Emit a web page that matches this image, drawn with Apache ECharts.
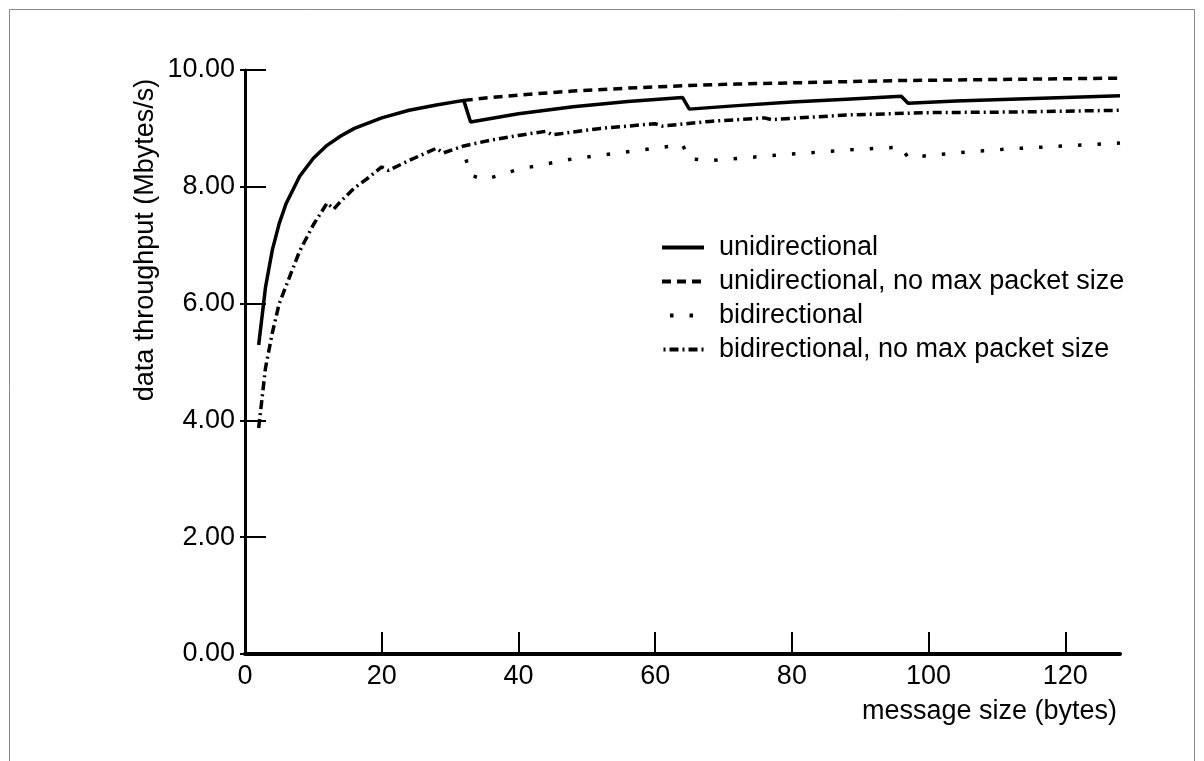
<!DOCTYPE html>
<html>
<head>
<meta charset="utf-8">
<script src="https://cdn.jsdelivr.net/npm/echarts@6/dist/echarts.min.js"></script>
<style>
  html, body { margin: 0; padding: 0; background: #fff; }
  #container { width: 1204px; height: 761px; }
</style>
</head>
<body>
<div id="container"></div>
<script>
// series names (legend order)
var seriesNames = ['unidirectional', 'unidirectional, no max packet size', 'bidirectional', 'bidirectional, no max packet size'];

// unidirectional (max packet size 32 bytes -> drops at 33, 65, 97)
var uniX = [2, 3, 4, 5, 6, 8, 10, 12, 14, 16, 20, 24, 28, 32, 33, 40, 48, 56, 64, 65, 72, 80, 88, 96, 97, 104, 112, 120, 128];
var uniY = [5.29, 6.28, 6.92, 7.37, 7.71, 8.18, 8.49, 8.71, 8.87, 9.00, 9.18, 9.31, 9.40, 9.48, 9.11, 9.25, 9.37, 9.46, 9.53, 9.33, 9.39, 9.45, 9.50, 9.55, 9.43, 9.47, 9.50, 9.53, 9.56];

// unidirectional, no max packet size (only visible past 32 bytes)
var uniNoMaxX = [32, 36, 40, 48, 56, 64, 72, 80, 88, 96, 104, 112, 120, 128];
var uniNoMaxY = [9.48, 9.53, 9.57, 9.64, 9.69, 9.73, 9.76, 9.78, 9.80, 9.82, 9.83, 9.84, 9.85, 9.86];

// bidirectional
var biX = [32, 33, 35, 40, 48, 56, 64, 65, 68, 80, 88, 96, 97, 104, 112, 120, 128];
var biY = [8.60, 8.20, 8.12, 8.30, 8.48, 8.60, 8.72, 8.48, 8.45, 8.56, 8.63, 8.68, 8.50, 8.58, 8.65, 8.70, 8.75];

// bidirectional, no max packet size
var biNoMaxX = [2, 3, 4, 5, 6, 8, 10, 12, 13, 14, 16, 18, 20, 21, 24, 28, 29, 32, 36, 40, 44, 45, 52, 60, 61, 68, 76, 77, 88, 100, 112, 128];
var biNoMaxY = [3.87, 4.90, 5.50, 6.00, 6.30, 6.90, 7.35, 7.72, 7.62, 7.75, 7.98, 8.15, 8.34, 8.28, 8.45, 8.66, 8.58, 8.70, 8.80, 8.88, 8.95, 8.89, 9.00, 9.08, 9.04, 9.12, 9.18, 9.15, 9.23, 9.27, 9.28, 9.31];

// x / y tick labels
var xTicks = [0, 20, 40, 60, 80, 100, 120];
var yTicks = [0, 2, 4, 6, 8, 10];

var FONT = '"Liberation Sans", Arial, Helvetica, sans-serif';
var FSIZE = 27;

function pairs(xs, ys) {
    var out = [];
    for (var i = 0; i < xs.length; i++) {
        out.push([xs[i], ys[i]]);
    }
    return out;
}

var dom = document.getElementById('container');
var myChart = echarts.init(dom);

var lineBase = { symbol: 'none', smooth: false, animation: false, type: 'line' };

option = {
    backgroundColor: '#fff',
    animation: false,
    grid: { left: 245, top: 70, right: 84, bottom: 107 },
    legend: {
        orient: 'vertical',
        left: 655,
        top: 229,
        itemWidth: 42,
        itemHeight: 14,
        itemGap: 7,
        data: seriesNames,
        //只要线，不要图例里的小圆点
        itemStyle: { color: 'rgba(0,0,0,0)', borderWidth: 0 },
        lineStyle: { width: 4 },
        textStyle: { fontFamily: FONT, fontSize: FSIZE, color: '#000', padding: [0, 0, 0, 10] }
    },
    xAxis: {
        type: 'value',
        min: 0,
        max: 128,
        interval: 20,
        axisLine: { lineStyle: { color: '#000', width: 4 } },
        axisTick: { inside: true, length: 22, lineStyle: { color: '#000', width: 2 }, customValues: xTicks },
        axisLabel: { fontFamily: FONT, fontSize: FSIZE, color: '#000', margin: 9, customValues: xTicks },
        splitLine: { show: false }
    },
    yAxis: [
        {
            type: 'value',
            min: 0,
            max: 10,
            interval: 2,
            axisLine: { show: true, lineStyle: { color: '#000', width: 3 } },
            axisTick: { show: true, inside: true, length: 21, lineStyle: { color: '#000', width: 2 }, customValues: yTicks },
            axisLabel: {
                fontFamily: FONT, fontSize: FSIZE, color: '#000', margin: 10, customValues: yTicks,
                formatter: function (v) { return v.toFixed(2); }
            },
            splitLine: { show: false }
        },
        {
            // short outside ticks on the left of the axis
            type: 'value',
            position: 'left',
            min: 0,
            max: 10,
            interval: 2,
            axisLine: { show: false },
            axisTick: { show: true, inside: false, length: 5, lineStyle: { color: '#000', width: 2 } },
            axisLabel: { show: false },
            splitLine: { show: false }
        }
    ],
    graphic: [
        {
            type: 'rect',
            shape: { x: 9.5, y: 9.5, width: 1185, height: 800 },
            style: { fill: 'none', stroke: '#888', lineWidth: 1 },
            silent: true
        },
        {
            type: 'text',
            x: 146, y: 240,
            rotation: Math.PI / 2,
            style: { text: 'data throughput (Mbytes/s)', fontFamily: FONT, fontSize: FSIZE, fill: '#000', align: 'center', verticalAlign: 'middle' }
        },
        {
            type: 'text',
            x: 1117, y: 712,
            style: { text: 'message size (bytes)', fontFamily: FONT, fontSize: FSIZE, fill: '#000', align: 'right', verticalAlign: 'middle' }
        }
    ],
    series: [
        Object.assign({}, lineBase, {
            name: seriesNames[0],
            data: pairs(uniX, uniY),
            z: 4,
            lineStyle: { color: '#000', width: 3.5, type: 'solid' }
        }),
        Object.assign({}, lineBase, {
            name: seriesNames[1],
            data: pairs(uniNoMaxX, uniNoMaxY),
            z: 3,
            lineStyle: { color: '#000', width: 3.5, type: [9, 6], cap: 'butt' }
        }),
        Object.assign({}, lineBase, {
            name: seriesNames[2],
            data: pairs(biX, biY),
            z: 3,
            lineStyle: { color: '#000', width: 3.5, type: [3.5, 16], dashOffset: 11.5, cap: 'butt' }
        }),
        Object.assign({}, lineBase, {
            name: seriesNames[3],
            data: pairs(biNoMaxX, biNoMaxY),
            z: 3,
            lineStyle: { color: '#000', width: 3.5, type: [9, 4, 2, 4], cap: 'butt' }
        })
    ]
};

if (option && typeof option === 'object') {
    myChart.setOption(option, true);
}
</script>
</body>
</html>
